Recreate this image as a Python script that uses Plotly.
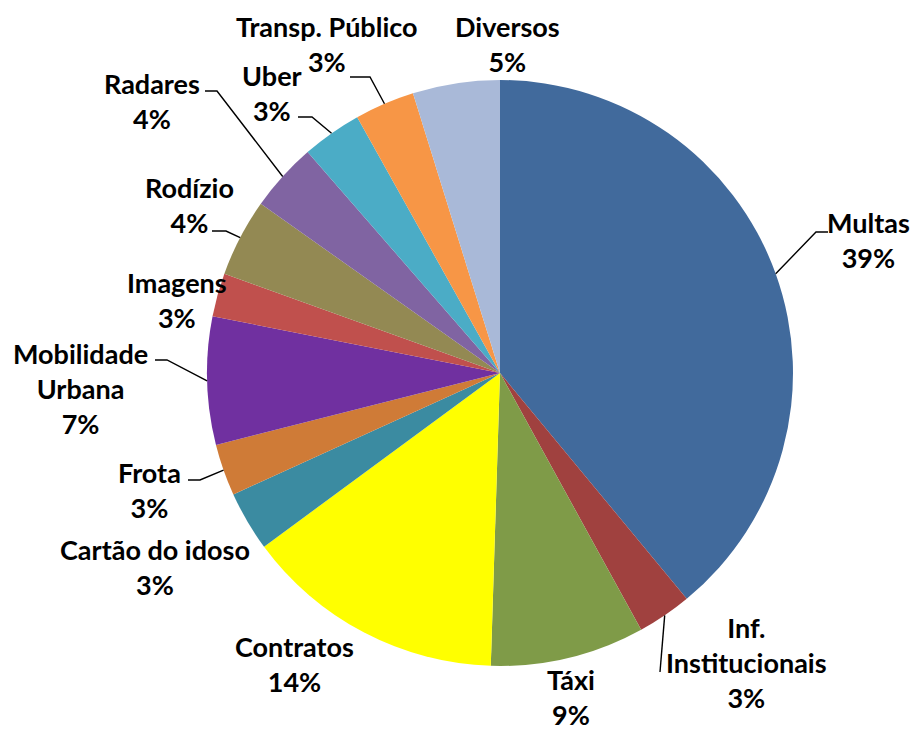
import math
import plotly.graph_objects as go

categories = ['Multas', 'Inf.<br>Institucionais', 'Táxi', 'Contratos', 'Cartão do idoso', 'Frota',
              'Mobilidade<br>Urbana', 'Imagens', 'Rodízio', 'Radares', 'Uber', 'Transp. Público', 'Diversos']
values = [39.0, 3.0, 8.5, 14.4, 3.3, 2.85, 7.05, 2.4, 4.3, 3.8, 3.3, 3.3, 4.8]
pct_labels = ['39%', '3%', '9%', '14%', '3%', '3%', '7%', '3%', '4%', '4%', '3%', '3%', '5%']
colors = ['#416A9C', '#A0413F', '#7F9B48', '#FFFF00', '#3B8BA1', '#CF7B37', '#7030A0',
          '#C0504D', '#938953', '#8064A2', '#4BACC6', '#F79646', '#A9B9D8']

# page body has an 8px margin, so the figure starts at (8, 8) in the window
OFF = 8
W, H = 912, 723
# pie placement in window pixels
cx, cy, r = 500, 373, 293

# label centre (px) and leader line (start x, start y, elbow x) or None
label_pos = [(868, 240), (746, 662), (571, 697), (294, 664), (155, 567), (149, 490),
             (80, 388), (177, 300), (189, 205), (152, 101), (272, 93), (327, 44), (507, 44)]
leaders = [(828, 232, 816), (660, 672, 660), None, None, None, (188, 480, 200),
           (155, 360, 167), None, (212, 231, 226), (205, 91, 217), (298, 117, 312), (350, 77, 370), None]


def px(x, y):
    return (x - OFF) / W, 1 - (y - OFF) / H


dx0, dy1 = px(cx - r, cy - r)
dx1, dy0 = px(cx + r, cy + r)

fig = go.Figure(go.Pie(
    labels=categories, values=values, sort=False, direction='clockwise', rotation=0,
    marker=dict(colors=colors, line=dict(width=0)),
    textinfo='none', hoverinfo='label+percent', showlegend=False,
    domain=dict(x=[dx0, dx1], y=[dy0, dy1]),
))

total = sum(values)
cum = 0
shapes = []
annotations = []
for i, v in enumerate(values):
    mid = (cum + v / 2) / total * 2 * math.pi
    cum += v
    ex, ey = cx + r * math.sin(mid), cy - r * math.cos(mid)
    if leaders[i]:
        sx, sy, bx = leaders[i]
        p0, p1, p2 = px(sx, sy), px(bx, sy), px(ex, ey)
        shapes.append(dict(type='path', xref='paper', yref='paper',
                           path=f'M {p0[0]} {p0[1]} L {p1[0]} {p1[1]} L {p2[0]} {p2[1]}',
                           line=dict(color='black', width=1.4)))
    lx, ly = px(*label_pos[i])
    annotations.append(dict(x=lx, y=ly, xref='paper', yref='paper', showarrow=False,
                            text=categories[i] + '<br>' + pct_labels[i],
                            xanchor='center', yanchor='middle', align='center',
                            font=dict(family='Lato', size=27, color='black', weight=700)))

fig.update_layout(width=W, height=H, margin=dict(l=0, r=0, t=0, b=0),
                  paper_bgcolor='white', plot_bgcolor='white',
                  shapes=shapes, annotations=annotations)

fig.write_html("out.html")
